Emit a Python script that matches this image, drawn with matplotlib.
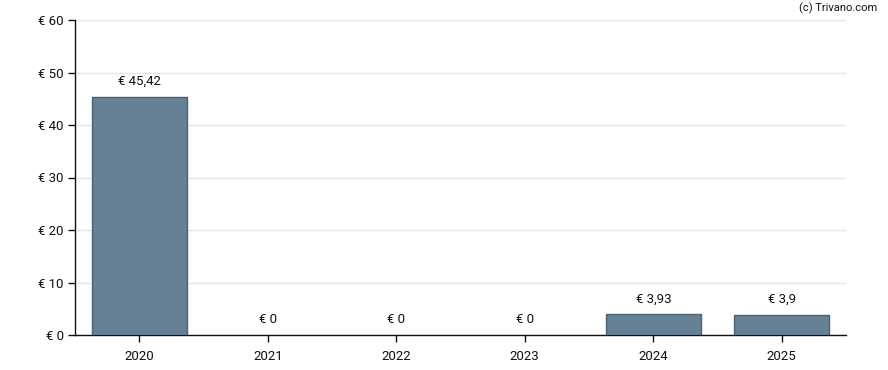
import matplotlib
matplotlib.use("Agg")
import matplotlib.pyplot as plt

years = ["2020", "2021", "2022", "2023", "2024", "2025"]
values = [45.42, 0, 0, 0, 3.93, 3.9]
labels = ["€ 45,42", "€ 0", "€ 0", "€ 0", "€ 3,93", "€ 3,9"]
yticks = [0, 10, 20, 30, 40, 50, 60]
ytick_labels = ["€ 0", "€ 10", "€ 20", "€ 30", "€ 40", "€ 50", "€ 60"]

plt.rcParams['font.family'] = ['Roboto', 'DejaVu Sans']

fig = plt.figure(figsize=(8.88, 3.7), dpi=100)
ax = fig.add_axes([75/888, 1-335/370, (846-75)/888, (335-20)/370])

x = list(range(len(years)))
lws = [1 if v > 0 else 0 for v in values]
ax.bar(x, values, width=0.74, color="#668194", edgecolor="#4a6377", linewidth=lws, zorder=3)
for xi, v, lab in zip(x, values, labels):
    ax.annotate(lab, (xi, v), xytext=(0, 6.5), textcoords="offset points",
                ha="center", va="bottom", fontsize=9.5, color="#111111")

ax.set_xlim(-0.5, 5.5)
ax.set_ylim(0, 60)
ax.set_xticks(x)
ax.set_xticklabels(years)
ax.set_yticks(yticks)
ax.set_yticklabels(ytick_labels)
ax.tick_params(axis='both', labelsize=9.5, colors="#111111", length=5, width=1)
ax.tick_params(axis='x', pad=6)
ax.tick_params(axis='y', pad=3)
ax.grid(axis='y', color="#e6e6e6", linewidth=1, zorder=0)
ax.set_axisbelow(True)
for s in ["top", "right"]:
    ax.spines[s].set_visible(False)
for s in ["left", "bottom"]:
    ax.spines[s].set_color("#111111")
    ax.spines[s].set_linewidth(1)

fig.text(877/888, 1-8/370, "(c) Trivano.com", ha="right", va="center", fontsize=8, color="#111111")

fig.savefig("out.png", dpi=100)
